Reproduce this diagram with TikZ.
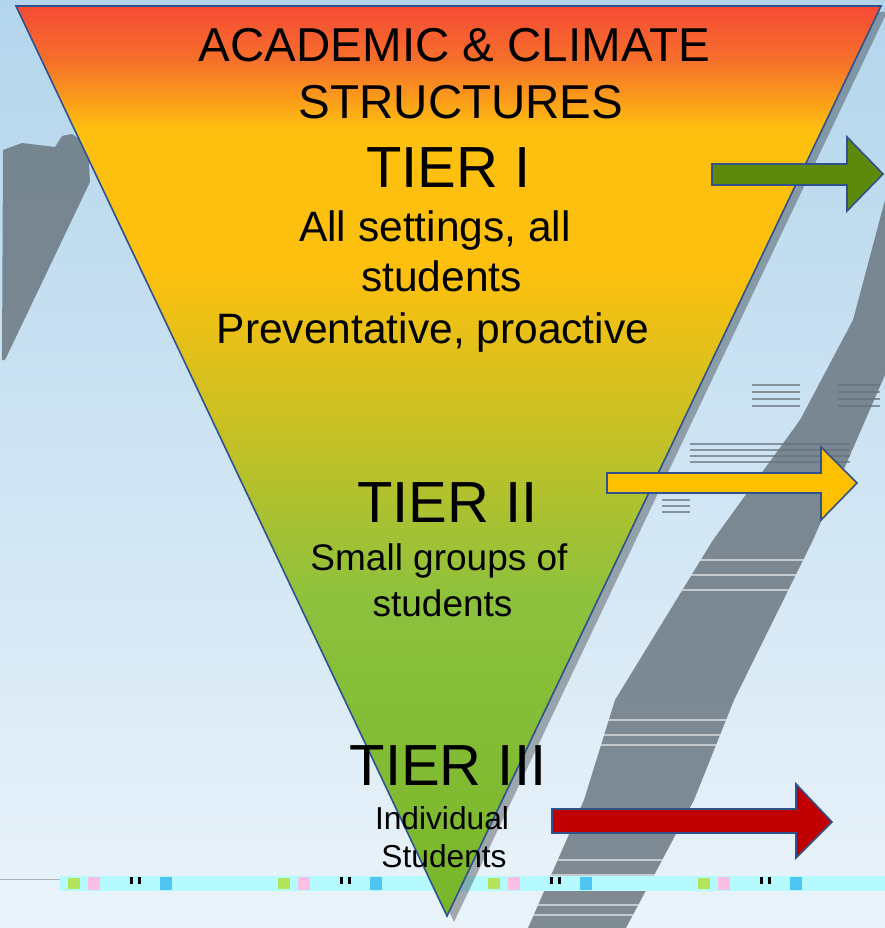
\documentclass[tikz,border=0pt]{standalone}
\usepackage{fontspec}
\setmainfont{Liberation Sans}
\definecolor{bgTop}{HTML}{B3D5EC}
\definecolor{bgBot}{HTML}{EAF3FA}
\definecolor{edgeBlue}{HTML}{2F528F}
\definecolor{cR}{HTML}{F54B36}
\definecolor{cO}{HTML}{F6702A}
\definecolor{cY}{HTML}{FEC00E}
\definecolor{cG2}{HTML}{8CC13D}
\definecolor{cG1}{HTML}{78B62A}
\definecolor{arrGreen}{HTML}{5E8A0B}
\definecolor{arrYellow}{HTML}{FFC000}
\definecolor{arrRed}{HTML}{C00000}
\definecolor{shadowGrey}{HTML}{65717A}
\definecolor{glitch}{HTML}{B4FAFF}
\pgfdeclareverticalshading{trigrad}{100bp}{color(0bp)=(cG1); color(25bp)=(cG1); color(42.35bp)=(cG2); color(60.5bp)=(cY); color(68.2bp)=(cY); color(72bp)=(cO); color(75bp)=(cR); color(100bp)=(cR)}
\tikzset{
  txt/.style={inner sep=0pt, anchor=base, text=black},
  heading/.style={txt, font=\fontsize{47.5}{57}\selectfont},
  tiertxt/.style={txt, font=\fontsize{58}{70}\selectfont},
  bodyA/.style={txt, font=\fontsize{42.5}{51}\selectfont},
  bodyB/.style={txt, font=\fontsize{37}{45}\selectfont},
  bodyC/.style={txt, font=\fontsize{31.7}{38}\selectfont},
  arrowshape/.style={draw=edgeBlue, line width=1.6pt, line join=miter},
  greyband/.style={fill=shadowGrey, opacity=0.8},
}
\def\bandpath{(885,200) -- (853,320) -- (800,420) -- (713,540) -- (615,700) -- (584,800) -- (528,928)
  -- (626,928) -- (694,800) -- (734,700) -- (813,540) -- (885,375) -- cycle}
\begin{document}
\begin{tikzpicture}[x=1pt,y=-1pt]
\useasboundingbox (0,0) rectangle (885,928);
% background
\shade[top color=bgTop, bottom color=bgBot] (0,0) rectangle (885,928);
% grey artefact wedge on the left
\fill[greyband] (3,150) -- (22,143) -- (55,147) -- (62,136) -- (72,134) -- (88,145) -- (90,182) -- (5,360) -- (2,360) -- cycle;
% grey diagonal band on the right
\fill[greyband] \bandpath;
\begin{scope}
\clip \bandpath;
\foreach \yy in {560,575,590,720,735,745,860,875,905,915}{
  \draw[white, opacity=0.55, line width=1.2pt] (500,\yy) -- (885,\yy);
}
\end{scope}
\foreach \yy in {385,392,399,406}{
  \draw[shadowGrey, opacity=0.7, line width=1.5pt] (752,\yy) -- (800,\yy);
  \draw[shadowGrey, opacity=0.7, line width=1.5pt] (838,\yy) -- (880,\yy);
}
\foreach \yy in {444,450,456,462}{
  \draw[shadowGrey, opacity=0.7, line width=1.5pt] (690,\yy) -- (850,\yy);
}
\foreach \yy in {500,506,512}{
  \draw[shadowGrey, opacity=0.7, line width=1.5pt] (662,\yy) -- (690,\yy);
}
% glitch strip
\draw[gray!60, line width=1pt] (0,879) -- (60,879);
\fill[glitch] (60,876) rectangle (885,891);
\foreach \xx in {60,270,480,690}{
  \fill[yellow!70!green, opacity=0.7] (\xx+8,878) rectangle (\xx+20,889);
  \fill[magenta!25] (\xx+28,877) rectangle (\xx+40,890);
  \fill[cyan!70] (\xx+100,877) rectangle (\xx+112,890);
  \fill[black] (\xx+70,877) rectangle (\xx+73,884);
  \fill[black] (\xx+78,877) rectangle (\xx+81,884);
}
% triangle shadow
\fill[black, opacity=0.3] (22,12) -- (887,12) -- (454,922) -- cycle;
% main inverted triangle
\shade[shading=trigrad, draw=edgeBlue, line width=1.6pt, line join=miter]
  (16,6) coordinate (tl) -- (881,6) coordinate (tr) -- (447,916) coordinate (bt) -- cycle;
% arrows
\draw[arrowshape, fill=arrGreen] (712,164) -- (847,164) -- (847,137) -- (883,174) -- (847,211) -- (847,185) -- (712,185) -- cycle;
\draw[arrowshape, fill=arrYellow] (607,473) -- (821,473) -- (821,447) -- (857,483) -- (821,520) -- (821,493) -- (607,493) -- cycle;
\draw[arrowshape, fill=arrRed] (552,809) -- (796,809) -- (796,784) -- (832,822) -- (796,858) -- (796,833) -- (552,833) -- cycle;
% texts
\node[heading] (hd1) at (454.5,62) {ACADEMIC \& CLIMATE};
\node[heading] (hd2) at (461,119) {STRUCTURES};
\node[tiertxt] (t1) at (448.5,187) {TIER I};
\node[bodyA] (a1) at (435,241.7) {All settings, all};
\node[bodyA] (a2) at (441.5,291.7) {students};
\node[bodyA] (a3) at (433,343) {Preventative, proactive};
\node[tiertxt] (t2) at (447.5,522.7) {TIER II};
\node[bodyB] (b1) at (439,570.7) {Small groups of};
\node[bodyB] (b2) at (442.5,616) {students};
\node[tiertxt] (t3) at (448,785) {TIER III};
\node[bodyC] (c1) at (442,829) {Individual};
\node[bodyC] (c2) at (444,867) {Students};
\end{tikzpicture}
\end{document}
